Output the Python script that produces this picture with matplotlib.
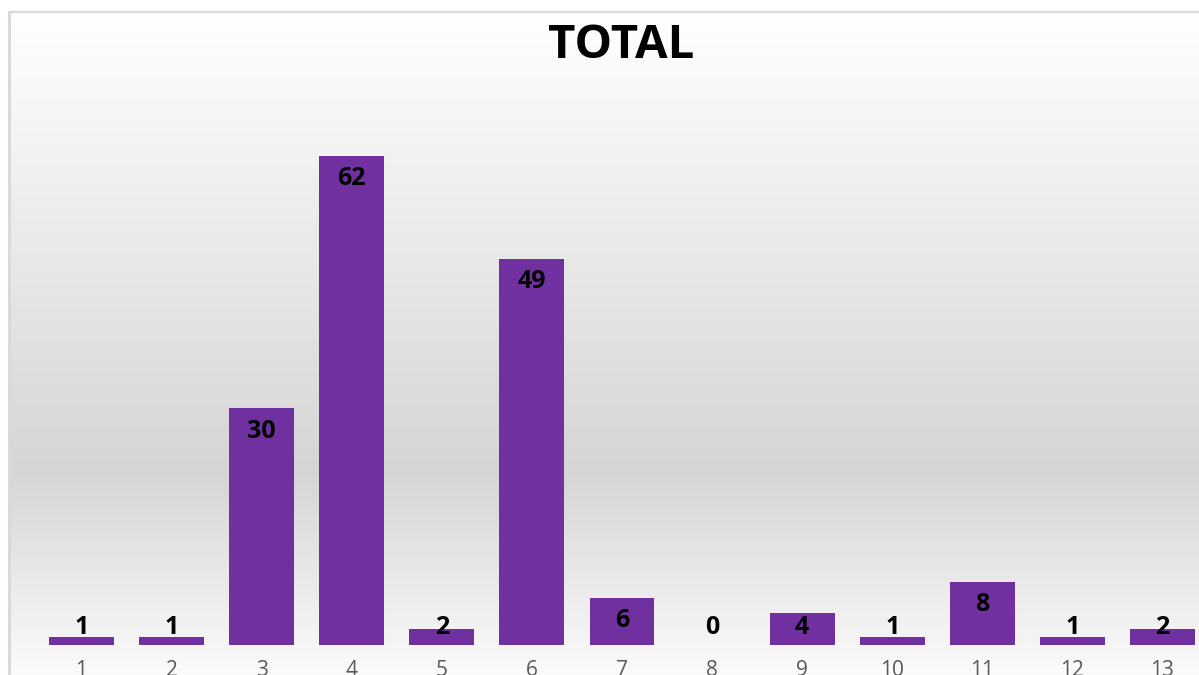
import numpy as np
import matplotlib
matplotlib.use("Agg")
import matplotlib.pyplot as plt

categories = ["1", "2", "3", "4", "5", "6", "7", "8", "9", "10", "11", "12", "13"]
values = [1, 1, 30, 62, 2, 49, 6, 0, 4, 1, 8, 1, 2]
title = "TOTAL"

W, H = 1199, 675
fig = plt.figure(figsize=(W / 100, H / 100), dpi=100)

# background gradient + border
bg = fig.add_axes([0, 0, 1, 1], zorder=0)
bg.set_xlim(0, W)
bg.set_ylim(H, 0)
bg.axis("off")
ys = np.arange(H)
stops_y = [0, 11, 467, 675]
stops_v = [255, 254, 213, 251]
col = np.interp(ys, stops_y, stops_v) / 255.0
img = np.repeat(col[:, None], 2, axis=1)
img = np.dstack([img, img, img])
bg.imshow(img, extent=[9, W + 5, H, 11], aspect="auto", interpolation="bilinear", zorder=0)
bg.plot([9, 9], [11, H], color="#d9d9d9", lw=2.2, zorder=1, solid_capstyle="butt")
bg.plot([9, W], [11.5, 11.5], color="#d9d9d9", lw=1.6, zorder=1, solid_capstyle="butt")

# plot axes
left_px, right_px = 36.46, 1207.5
base_px, top_px = 645, 93
ax = fig.add_axes([left_px / W, (H - base_px) / H, (right_px - left_px) / W, (base_px - top_px) / H], zorder=2)
ax.patch.set_alpha(0)
x = np.arange(1, len(values) + 1)
ax.bar(x, values, width=0.72, color="#7030A0", zorder=3)
ax.set_xlim(0.5, 13.5)
ax.set_ylim(0, 70)
for s in ax.spines.values():
    s.set_visible(False)
ax.set_yticks([])
ax.set_xticks(x)
ax.set_xticklabels(categories, family="Open Sans", fontsize=15, color="#595959")
ax.tick_params(axis="x", length=0, pad=11)

for xi, v in zip(x, values):
    ypos = max(v - 2.9, 2.25)
    ax.text(xi, ypos, str(v), ha="center", va="center", family="Open Sans",
            fontweight="bold", fontsize=18, color="black", zorder=4)

fig.text(621 / W, 1 - 45 / H, title, ha="center", va="center", family="Open Sans",
         fontweight="bold", fontsize=34, color="black")

fig.savefig("out.png", dpi=100)
